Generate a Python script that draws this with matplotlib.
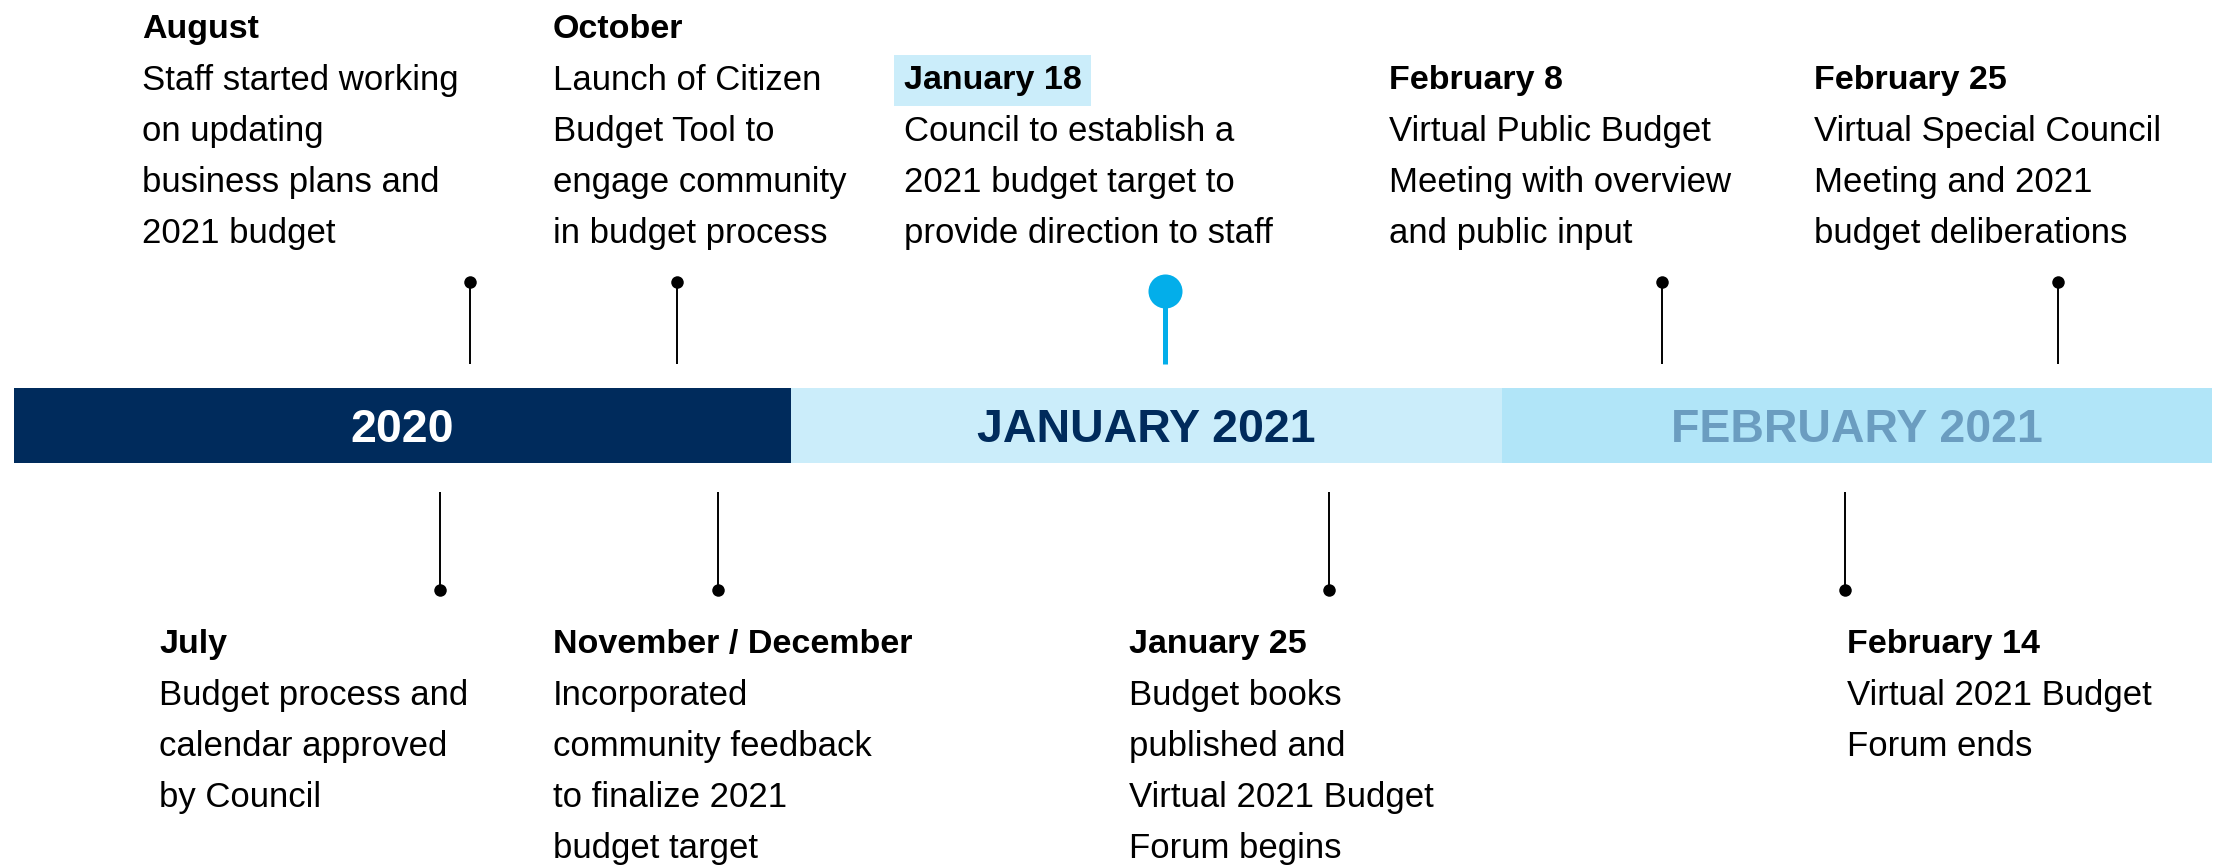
import matplotlib
matplotlib.use('Agg')
import matplotlib.pyplot as plt

plt.rcParams['font.family'] = ['Liberation Sans', 'DejaVu Sans']

# ── Timeline data (x in timeline units, bar spans 0..100) ──────────────────
SEGMENTS      = ['2020', 'JANUARY 2021', 'FEBRUARY 2021']
SEGMENT_EDGES = [0.0, 35.35, 67.70, 100.0]
SEGMENT_FILL  = ['#002B5C', '#CBEDFA', '#B1E5F8']
SEGMENT_TEXT  = ['#FFFFFF', '#002B5C', '#6B9DC0']

EVENT_DATES = ['July', 'August', 'October', 'November / December',
               'January 18', 'January 25', 'February 8', 'February 14',
               'February 25']
EVENT_POS   = [19.38, 20.75, 30.16, 32.03, 52.37, 59.83, 74.98, 83.30, 92.99]
EVENT_SIDE  = ['below', 'above', 'above', 'below', 'above', 'below',
               'above', 'below', 'above']
EVENT_TEXT  = [
    ['Budget process and', 'calendar approved', 'by Council'],
    ['Staff started working', 'on updating', 'business plans and',
     '2021 budget'],
    ['Launch of Citizen', 'Budget Tool to', 'engage community',
     'in budget process'],
    ['Incorporated', 'community feedback', 'to finalize 2021',
     'budget target'],
    ['Council to establish a', '2021 budget target to',
     'provide direction to staff'],
    ['Budget books', 'published and', 'Virtual 2021 Budget', 'Forum begins'],
    ['Virtual Public Budget', 'Meeting with overview', 'and public input'],
    ['Virtual 2021 Budget', 'Forum ends'],
    ['Virtual Special Council', 'Meeting and 2021',
     'budget deliberations'],
]
HIGHLIGHT = 'January 18'

# text block left edges (timeline units)
LABEL_X = [6.60, 5.82, 24.52, 24.52, 40.49, 50.73, 62.56, 83.39, 81.89]

# ── Layout (y in pixels from top) ──────────────────────────────────────────
BAR_Y, BAR_H = 425.5, 75
STEM_TOP = (282, 364)       # dot, end near bar
STEM_BOT = (492, 590)
LINE_H = 51
TOP_LAST_BASE = 243
BOT_TITLE_BASE = 653
BODY_FS, TITLE_FS = 25, 24.5
BLUE = '#03AEEA'

fig = plt.figure(figsize=(22.16, 8.67), dpi=100)
ax = fig.add_axes([0, 0, 1, 1])
ax.set_xlim(-14 / 21.98, 2202 / 21.98)
ax.set_ylim(867, 0)
ax.axis('off')

# bar segments
lefts = SEGMENT_EDGES[:-1]
widths = [b - a for a, b in zip(SEGMENT_EDGES[:-1], SEGMENT_EDGES[1:])]
ax.barh(BAR_Y, widths, left=lefts, height=BAR_H, color=SEGMENT_FILL,
        linewidth=0)
for lab, l, w, c in zip(SEGMENTS, lefts, widths, SEGMENT_TEXT):
    ax.text(l + w / 2, BAR_Y, lab, ha='center', va='center_baseline',
            fontsize=33.5, fontweight='bold', color=c)

# stems, dots and text blocks
for date, x, side, body, lx in zip(EVENT_DATES, EVENT_POS, EVENT_SIDE,
                                   EVENT_TEXT, LABEL_X):
    hl = date == HIGHLIGHT
    if side == 'above':
        dot_y, end_y = STEM_TOP
        if hl:
            dot_y += 9
        first = TOP_LAST_BASE - (len(body) - 1) * LINE_H
        title_y = first - 52
    else:
        end_y, dot_y = STEM_BOT
        title_y = BOT_TITLE_BASE
        first = title_y + 52
    color = BLUE if hl else 'black'
    ax.plot([x, x], [dot_y, end_y], color=color,
            lw=3.6 if hl else 1.4, solid_capstyle='butt', zorder=2)
    ax.plot(x, dot_y, 'o', color=color, markersize=24.5 if hl else 9,
            markeredgewidth=0, zorder=3)

    bbox = None
    if hl:
        bbox = dict(boxstyle='square,pad=0.28', fc='#CBEDFA', ec='none')
    ax.text(lx, title_y, date, ha='left', va='baseline', fontsize=TITLE_FS,
            fontweight='bold', color='black', bbox=bbox)
    for i, line in enumerate(body):
        ax.text(lx, first + i * LINE_H, line, ha='left', va='baseline',
                fontsize=BODY_FS, color='black')

fig.savefig('out.png', dpi=100, facecolor='white')
plt.close(fig)
